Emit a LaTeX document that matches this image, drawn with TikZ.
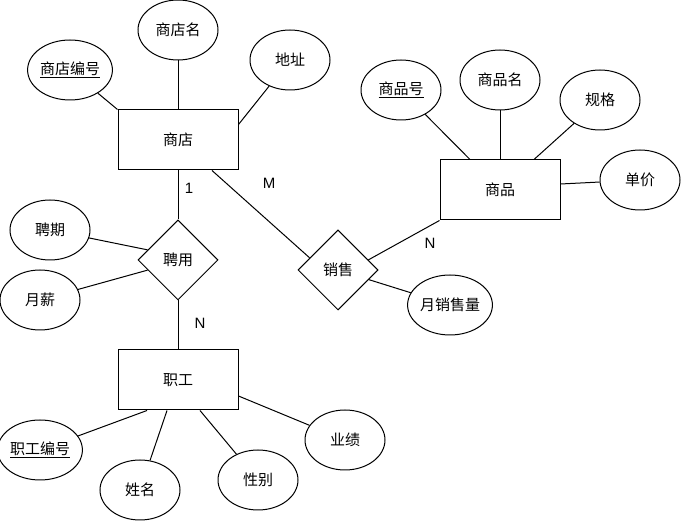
\documentclass[tikz,border=0pt]{standalone}
\usepackage{fontspec}
\setmainfont{Liberation Sans}
\newfontfamily\cjk{Noto Sans CJK SC}
\usetikzlibrary{shapes.geometric,calc}
\begin{document}
\begin{tikzpicture}[x=1pt,y=-1pt,
  txt/.style={font=\cjk\fontsize{15}{18}\selectfont},
  ent/.style={txt, draw, line width=1pt, minimum width=120pt, minimum height=60pt, inner sep=0pt},
  attr/.style={txt, draw, ellipse, line width=1pt, minimum width=80pt, minimum height=60pt, inner sep=0pt},
  rel/.style={txt, draw, diamond, line width=1pt, minimum width=80pt, minimum height=80pt, inner sep=0pt},
  conn/.style={line width=1pt},
  card/.style={font=\fontsize{15}{18}\selectfont, inner sep=0pt}]
\fill[white] (0,0) rectangle (681,521);
\useasboundingbox (0,0) rectangle (681,521);

% entities
\node[ent] (shop) at (178,140) {商店};
\node[ent] (goods) at (500,190) {商品};
\node[ent] (emp) at (178,380) {职工};

% relationships
\node[rel] (hire) at (178,260) {聘用};
\node[rel] (sale) at (338,270) {销售};

% attributes
\node[attr] (sdm) at (178,30) {商店名};
\node[attr] (sdbh) at (70,70) {\underline{商店编号}};
\node[attr] (dz) at (290,60) {地址};
\node[attr] (sph) at (401,90) {\underline{商品号}};
\node[attr] (spm) at (500,80) {商品名};
\node[attr] (gg) at (600,100) {规格};
\node[attr] (dj) at (640,180) {单价};
\node[attr] (pq) at (50,230) {聘期};
\node[attr] (yx) at (40,300) {月薪};
\node[attr] (ysl) at (450,305) {月销售量};
\node[attr] (zgbh) at (40,450) {\underline{职工编号}};
\node[attr] (xm) at (140,490) {姓名};
\node[attr] (xb) at (258,480) {性别};
\node[attr] (yj) at (345,440) {业绩};

% connectors
\draw[conn] (sdm) -- (shop.north);
\draw[conn] (sdbh) -- (shop.north west);
\coordinate (shopR) at ([yshift=-15pt]shop.north east);
\draw[conn] (dz) -- (shopR);
\draw[conn] (shop.south) -- (hire.north);
\draw[conn] (hire.south) -- (emp.north);
\coordinate (shopB) at ([xshift=34pt]shop.south);
\coordinate (saleUL) at ($(sale.west)!0.3!(sale.north)$);
\draw[conn] (shopB) -- (saleUL);
\coordinate (saleUR) at ($(sale.east)!0.25!(sale.north)$);
\draw[conn] (saleUR) -- (goods.south west);
\draw[conn] (sale) -- (ysl);
\coordinate (hireUL) at ($(hire.west)!0.25!(hire.north)$);
\coordinate (hireLL) at ($(hire.west)!0.25!(hire.south)$);
\draw[conn] (pq) -- (hireUL);
\draw[conn] (yx) -- (hireLL);
\coordinate (gT1) at ([xshift=-30pt]goods.north);
\coordinate (gT2) at ([xshift=34pt]goods.north);
\coordinate (gR) at ([yshift=6pt]goods.east);
\draw[conn] (sph) -- (gT1);
\draw[conn] (spm) -- (goods.north);
\draw[conn] (gg) -- (gT2);
\draw[conn] (dj) -- (gR);
\coordinate (eB1) at ([xshift=-31pt]emp.south);
\coordinate (eB2) at ([xshift=-11pt]emp.south);
\coordinate (eB3) at ([xshift=22pt]emp.south);
\coordinate (eR) at ([yshift=-16pt]emp.east);
\draw[conn] (zgbh) -- (eB1);
\draw[conn] (xm) -- (eB2);
\draw[conn] (xb) -- (eB3);
\draw[conn] (yj) -- (eR);

% cardinalities
\node[card] (c1) at (189,188) {1};
\node[card] (cM) at (269,183) {M};
\node[card] (cN1) at (430,243) {N};
\node[card] (cN2) at (200,323) {N};
\end{tikzpicture}
\end{document}
